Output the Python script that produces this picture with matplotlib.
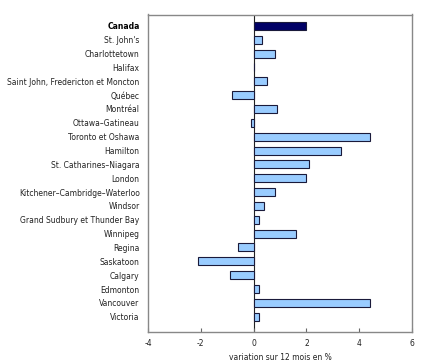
import matplotlib
matplotlib.use("Agg")
import matplotlib.pyplot as plt

categories = ["Canada", "St. John's", "Charlottetown", "Halifax",
              "Saint John, Fredericton et Moncton", "Québec", "Montréal",
              "Ottawa–Gatineau", "Toronto et Oshawa", "Hamilton",
              "St. Catharines–Niagara", "London", "Kitchener–Cambridge–Waterloo",
              "Windsor", "Grand Sudbury et Thunder Bay", "Winnipeg", "Regina",
              "Saskatoon", "Calgary", "Edmonton", "Vancouver", "Victoria"]
values = [2.0, 0.3, 0.8, 0.0, 0.5, -0.8, 0.9, -0.1, 4.4, 3.3, 2.1, 2.0,
          0.8, 0.4, 0.2, 1.6, -0.6, -2.1, -0.9, 0.2, 4.4, 0.2]
xticks = [-4, -2, 0, 2, 4, 6]
xlabel = "variation sur 12 mois en %"

fig = plt.figure(figsize=(4.35, 3.63), dpi=100)
ax = fig.add_axes([148/435, 1 - 331.7/363, (412-148)/435, (331.7-14.5)/363])

colors = ["#000066" if c == "Canada" else "#99CCFF" for c in categories]
ypos = list(range(len(categories)))
ax.barh(ypos, values, height=0.58, color=colors, edgecolor="#1a1a3a", linewidth=0.8)
ax.axvline(0, color="#222222", linewidth=0.8, zorder=0)

ax.set_xlim(-4, 6)
ax.set_ylim(len(categories) - 1 + 1.08, -0.82)
ax.set_xticks(xticks)
ax.set_xticklabels([str(t) for t in xticks], fontsize=5.5, color="#222222")
ax.set_yticks(ypos)
ax.set_yticklabels(categories, fontsize=5.5, color="#222222")
for lbl in ax.get_yticklabels():
    if lbl.get_text() == "Canada":
        lbl.set_fontweight("bold")
        lbl.set_color("black")
ax.tick_params(axis="y", length=0, pad=6)
ax.tick_params(axis="x", length=3, direction="in", color="#666666", pad=5)
for s in ax.spines.values():
    s.set_color("#888888")
    s.set_linewidth(1.0)
ax.set_xlabel(xlabel, fontsize=5.5, labelpad=4, color="#222222")

fig.savefig("out.png", dpi=100)
